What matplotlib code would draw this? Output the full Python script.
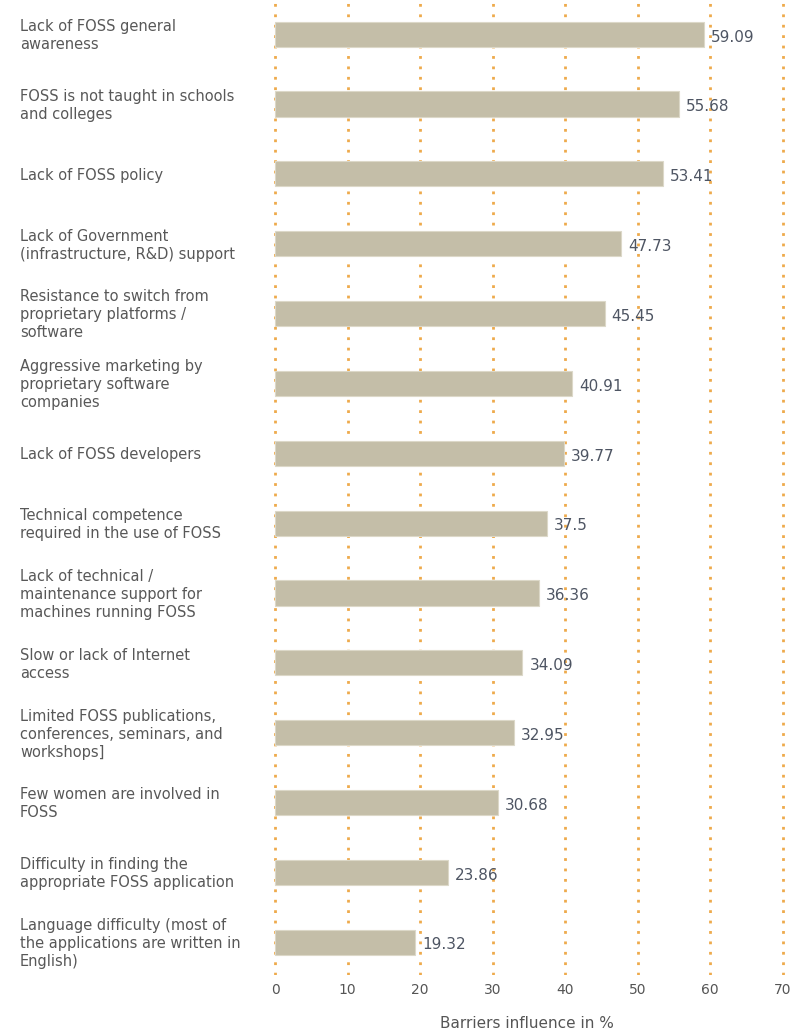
import matplotlib
matplotlib.use("Agg")
import matplotlib.pyplot as plt
import matplotlib.transforms as mtransforms

barriers = [
    "Lack of FOSS general\nawareness",
    "FOSS is not taught in schools\nand colleges",
    "Lack of FOSS policy",
    "Lack of Government\n(infrastructure, R&D) support",
    "Resistance to switch from\nproprietary platforms /\nsoftware",
    "Aggressive marketing by\nproprietary software\ncompanies",
    "Lack of FOSS developers",
    "Technical competence\nrequired in the use of FOSS",
    "Lack of technical /\nmaintenance support for\nmachines running FOSS",
    "Slow or lack of Internet\naccess",
    "Limited FOSS publications,\nconferences, seminars, and\nworkshops]",
    "Few women are involved in\nFOSS",
    "Difficulty in finding the\nappropriate FOSS application",
    "Language difficulty (most of\nthe applications are written in\nEnglish)",
]
influence = [59.09, 55.68, 53.41, 47.73, 45.45, 40.91, 39.77, 37.5, 36.36,
             34.09, 32.95, 30.68, 23.86, 19.32]
value_labels = ["59.09", "55.68", "53.41", "47.73", "45.45", "40.91", "39.77",
                "37.5", "36.36", "34.09", "32.95", "30.68", "23.86", "19.32"]
x_ticks = [0, 10, 20, 30, 40, 50, 60, 70]

plt.rcParams['font.family'] = ['DejaVu Sans']

fig = plt.figure(figsize=(8.12, 10.33), dpi=100)
ax = fig.add_axes([273 / 812, 1 - 975 / 1033, 512 / 812, 975 / 1033])

pos = list(range(len(influence)))
ax.barh(pos, influence, height=0.36, color="#c4bea8",
        edgecolor="#dcd8c8", linewidth=0.8, zorder=2)

# dotted orange gridlines, roughly one dot every 10 px
for x in x_ticks:
    ax.axvline(x, color="#eeaa4c", linestyle=(0, (1, 2.75)), linewidth=2.0,
               zorder=1)

for p, v, s in zip(pos, influence, value_labels):
    ax.annotate(s, (v, p), xytext=(5, -2), textcoords="offset points",
                va="center", ha="left", fontsize=11, color="#4e5563",
                zorder=3)

trans = mtransforms.blended_transform_factory(fig.transFigure, ax.transData)
for p, lab in zip(pos, barriers):
    ax.text(20 / 812, p + 0.02, lab, transform=trans, ha="left", va="center",
            fontsize=10.5, color="#585858", linespacing=1.25)

ax.set_xlim(-0.3, 70.3)
ax.set_ylim(13.47, -0.49)
ax.set_xticks(x_ticks)
ax.set_xticklabels([str(t) for t in x_ticks], fontsize=10, color="#555555")
ax.set_yticks([])
ax.tick_params(axis="x", length=0, pad=6)
for sp in ax.spines.values():
    sp.set_visible(False)

fig.text(527 / 812, 1 - 1024 / 1033, "Barriers influence in %", ha="center",
         va="center", fontsize=11, color="#555555")

fig.savefig("out.png", dpi=100)
